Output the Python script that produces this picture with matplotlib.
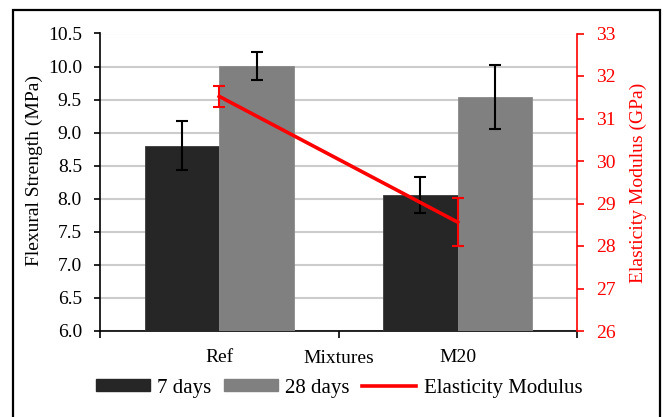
import matplotlib
matplotlib.use("Agg")
import matplotlib.pyplot as plt
from matplotlib.patches import Rectangle
from matplotlib.lines import Line2D
from matplotlib.patches import Patch
import numpy as np

categories = ["Ref", "M20"]
flex_7 = [8.80, 8.06]
flex_7_err = [0.37, 0.27]
flex_28 = [10.01, 9.54]
flex_28_err = [0.21, 0.48]
modulus = [31.52, 28.56]
modulus_err = [0.24, 0.57]
left_ticks = [6.0, 6.5, 7.0, 7.5, 8.0, 8.5, 9.0, 9.5, 10.0, 10.5]
right_ticks = [26, 27, 28, 29, 30, 31, 32, 33]

plt.rcParams['font.family'] = ['Liberation Serif', 'DejaVu Serif']
FS = 14

fig = plt.figure(figsize=(6.65, 4.17), dpi=100)
ax = fig.add_axes([100/665, 1-331/417, (577-100)/665, (331-33.5)/417])

x = np.arange(len(categories))
w = 0.3125
ax.bar(x - w/2, flex_7, width=w, color="#262626", edgecolor="#3a3a3a", linewidth=0.6,
       yerr=flex_7_err, error_kw=dict(ecolor="black", elinewidth=1.5, capsize=4.5, capthick=1.5), zorder=3)
ax.bar(x + w/2, flex_28, width=w, color="#808080", edgecolor="#8a8a8a", linewidth=0.6,
       yerr=flex_28_err, error_kw=dict(ecolor="black", elinewidth=1.5, capsize=4.5, capthick=1.5), zorder=3)

ax.set_ylim(6.0, 10.5)
ax.set_xlim(-0.5, 1.5)
ax.set_yticks(left_ticks)
ax.set_yticklabels([f"{t:.1f}" for t in left_ticks], fontsize=FS)
ax.yaxis.grid(True, color="#cccccc", linewidth=1.5, zorder=0)
ax.set_axisbelow(True)
ax.tick_params(axis='y', direction='out', length=4, width=1.2, pad=9)

ax.set_xticks(x)
ax.set_xticklabels(categories, fontsize=FS)
ax.set_xticks([-0.5, 0.5, 1.5], minor=True)
ax.tick_params(axis='x', which='major', length=0, pad=13)
ax.tick_params(axis='x', which='minor', direction='out', length=5, width=1.2)
ax.text(0.5, -0.093, "Mixtures", transform=ax.transAxes, ha='center', va='center', fontsize=FS)

for s in ['top', 'right']:
    ax.spines[s].set_visible(False)
ax.spines['left'].set_linewidth(1.2)
ax.spines['bottom'].set_linewidth(1.2)

ax2 = ax.twinx()
ax2.errorbar(x, modulus, yerr=modulus_err, color="#ff0000", linewidth=2.6,
             elinewidth=1.5, capsize=4.5, capthick=1.5, zorder=5)
ax2.set_ylim(26, 33)
ax2.set_yticks(right_ticks)
ax2.set_yticklabels([str(t) for t in right_ticks], fontsize=FS, color="#ff0000")
ax2.tick_params(axis='y', direction='out', length=5, width=1.2, color="#ff0000", pad=9)
ax2.spines['right'].set_color("#ff0000")
ax2.spines['right'].set_linewidth(1.2)
for s in ['top', 'left', 'bottom']:
    ax2.spines[s].set_visible(False)

fig.text(34/665, 1-171/417, "Flexural Strength (MPa)", rotation=90, ha='center', va='center', fontsize=FS)
fig.text(638/665, 1-183/417, "Elasticity Modulus (GPa)", rotation=90, ha='center', va='center',
         fontsize=FS, color="#ff0000")

handles = [Patch(facecolor="#262626", edgecolor="#262626"),
           Patch(facecolor="#808080", edgecolor="#808080"),
           Line2D([0], [0], color="#ff0000", linewidth=2.6)]
labels = ["7 days", "28 days", "Elasticity Modulus"]
fig.legend(handles, labels, loc='center', bbox_to_anchor=(339/665, 1-388/417), ncol=3,
           frameon=False, fontsize=15, handlelength=2.6, handleheight=0.55,
           handletextpad=0.35, columnspacing=0.6)

fig.patches.append(Rectangle((13/665, -0.02), (660-13)/665, 1.02-10/417, transform=fig.transFigure,
                             fill=False, edgecolor="black", linewidth=1.6))

fig.savefig("out.png", dpi=100)
